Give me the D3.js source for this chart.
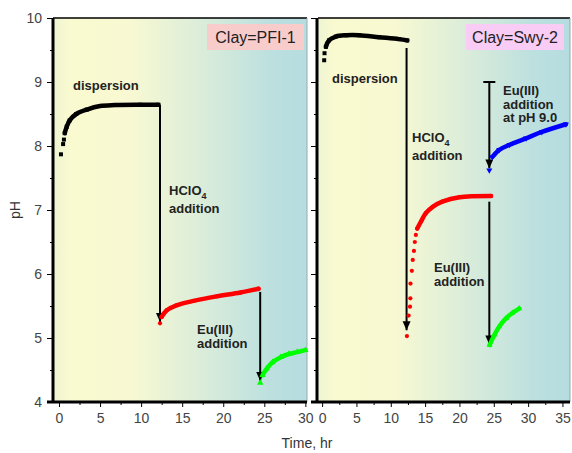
<!DOCTYPE html>
<html>
<head>
<meta charset="utf-8">
<script src="https://cdn.jsdelivr.net/npm/d3@7"></script>
<style>
  body { margin: 0; background: #fff; }
  svg { display: block; font-family: "Liberation Sans", Arial, sans-serif; }
  .tick text { fill: #444; font-size: 14px; }
  .ann { font-weight: bold; font-size: 13px; fill: #222; }
</style>
</head>
<body>
<svg width="572" height="453"></svg>
<script>
// ---- data (time in hr, pH) ----
var pfiDispT   = [0.24, 0.5, 0.6, 0.7, 0.94, 1.3, 2.1, 3.4, 5, 6.8, 9.9, 12.1];
var pfiDispPH  = [7.87, 8.03, 8.1, 8.2, 8.3, 8.4, 8.5, 8.57, 8.625, 8.64, 8.645, 8.645];
var pfiAcidT   = [12.3, 12.5, 13.1, 14.3, 16.4, 19.2, 22.1, 24.3];
var pfiAcidPH  = [5.23, 5.33, 5.43, 5.51, 5.58, 5.65, 5.71, 5.77];
var pfiEuT     = [24.5, 24.8, 25.3, 26, 27, 28, 29, 30];
var pfiEuPH    = [4.3, 4.42, 4.52, 4.62, 4.7, 4.75, 4.78, 4.81];

var swyDispT   = [0.3, 0.35, 0.55, 1.0, 2, 3.5, 5.4, 8.3, 11.2, 12.4];
var swyDispPH  = [9.34, 9.45, 9.55, 9.65, 9.71, 9.73, 9.73, 9.7, 9.67, 9.65];
var swyAcidT   = [12.35, 12.6, 12.8, 12.85, 12.87, 13.07, 13.2, 13.37, 13.5, 13.65, 13.85, 14.4, 15.1, 16.1, 17.5, 20, 24.6];
var swyAcidPH  = [5.03, 5.35, 5.49, 5.62, 5.85, 6.05, 6.22, 6.36, 6.5, 6.61, 6.71, 6.82, 6.95, 7.05, 7.13, 7.2, 7.22];
var swyEu9T    = [24.35, 24.8, 25.8, 27.3, 29.7, 32, 35.5];
var swyEu9PH   = [7.62, 7.83, 7.94, 8.02, 8.12, 8.22, 8.34];
var swyEuT     = [24.4, 25.1, 25.8, 26.8, 27.7, 28.7];
var swyEuPH    = [4.89, 5.05, 5.18, 5.31, 5.39, 5.46];

// arrows: [time, pH from, pH to]
var pfiArrows = [[12.3, 8.64, 5.25], [24.5, 5.72, 4.33]];
var swyArrows = [[12.3, 9.53, 5.12], [24.35, 9.0, 7.65], [24.35, 7.13, 4.9]];

var yTicks = [4, 5, 6, 7, 8, 9, 10];
var pfiXTicks = [0, 5, 10, 15, 20, 25, 30];
var swyXTicks = [0, 5, 10, 15, 20, 25, 30, 35];

var svg = d3.select("svg");

var y = d3.scaleLinear().domain([4, 10]).range([402, 18]);
var xL = d3.scaleLinear().domain([-0.73, 30.2]).range([53, 307]);
var xR = d3.scaleLinear().domain([-0.6, 36.1]).range([318, 570]);

var defs = svg.append("defs");
var grad = defs.append("linearGradient").attr("id", "bg");
[[0, "#eef5d3"], [0.07, "#fafad0"], [0.3, "#f8f9d2"], [0.6, "#d9ecda"], [0.85, "#bde0df"], [1, "#b5dce0"]]
  .forEach(function(s){ grad.append("stop").attr("offset", s[0]).attr("stop-color", s[1]); });

defs.append("marker")
    .attr("id", "head")
    .attr("markerUnits", "userSpaceOnUse")
    .attr("markerWidth", 10).attr("markerHeight", 10)
    .attr("refX", 9).attr("refY", 4)
    .attr("orient", "auto")
  .append("path")
    .attr("d", "M0,0 L9,4 L0,8 Z")
    .attr("fill", "#000");

function zip(t, p) { return t.map(function(d, i){ return [d, p[i]]; }); }

function panel(x, xTicks, showLabels, opts) {
    var r = x.range();
    var g = svg.append("g");
    g.append("rect")
        .attr("x", r[0]).attr("y", 18)
        .attr("width", r[1] - r[0]).attr("height", 384)
        .attr("fill", "url(#bg)");
    g.append("line").attr("x1", r[0]).attr("x2", r[1]).attr("y1", 18).attr("y2", 18)
        .attr("stroke", "#000").attr("stroke-width", 1.5);
    g.append("line").attr("x1", r[1]).attr("x2", r[1]).attr("y1", 18).attr("y2", 402)
        .attr("stroke", "#9aa").attr("stroke-width", 1);

    var ax = opts.axisX;
    // minor y ticks
    g.append("g").attr("transform", "translate(" + ax + ",0)")
        .call(d3.axisLeft(y).tickValues(d3.range(4.5, 10, 1)).tickSize(3).tickFormat(""))
        .call(function(s){ s.select(".domain").remove(); });
    var ya = g.append("g").attr("transform", "translate(" + ax + ",0)")
        .call(d3.axisLeft(y).tickValues(yTicks).tickSize(6).tickPadding(5)
              .tickFormat(showLabels ? d3.format("d") : ""));
    ya.select(".domain").attr("stroke-width", 3).attr("d", "M0,18V403");

    // x axis
    g.append("g").attr("transform", "translate(0,402)")
        .call(d3.axisBottom(x).tickValues(d3.range(2.5, x.domain()[1], 5)).tickSize(3).tickFormat(""))
        .call(function(s){ s.select(".domain").remove(); });
    var xa = g.append("g").attr("transform", "translate(0,402)")
        .call(d3.axisBottom(x).tickValues(xTicks).tickSize(5).tickPadding(6));
    xa.select(".domain").attr("stroke-width", 3).attr("d", "M" + (ax - 6) + ",0H" + r[1]);
    return g;
}

var gL = panel(xL, pfiXTicks, true, {axisX: 53});
var gR = panel(xR, swyXTicks, false, {axisX: 317});

function curve(g, x, pts, color, width, from) {
    var line = d3.line()
        .x(function(d){ return x(d[0]); })
        .y(function(d){ return y(d[1]); })
        .curve(d3.curveCatmullRom.alpha(0.5));
    g.append("path")
        .datum(pts.slice(from))
        .attr("d", line)
        .attr("fill", "none")
        .attr("stroke", color)
        .attr("stroke-width", width)
        .attr("stroke-linecap", "round");
}

function markers(g, x, pts, color, type, size) {
    g.selectAll(null).data(pts).enter().append("path")
        .attr("transform", function(d){ return "translate(" + x(d[0]) + "," + y(d[1]) + ")" + (type === "down" ? " rotate(180)" : ""); })
        .attr("d", d3.symbol().type(type === "square" ? d3.symbolSquare : type === "circle" ? d3.symbolCircle : d3.symbolTriangle).size(size))
        .attr("fill", color);
}

function arrows(g, x, list) {
    list.forEach(function(a){
        g.append("line")
            .attr("x1", x(a[0])).attr("x2", x(a[0]))
            .attr("y1", y(a[1])).attr("y2", y(a[2]))
            .attr("stroke", "#000").attr("stroke-width", 2)
            .attr("marker-end", "url(#head)");
    });
}

// left panel: PFI-1
var d1 = zip(pfiDispT, pfiDispPH), d2 = zip(pfiAcidT, pfiAcidPH), d3p = zip(pfiEuT, pfiEuPH);
curve(gL, xL, d1, "#000", 4.5, 3);
markers(gL, xL, d1, "#000", "square", 16);
arrows(gL, xL, pfiArrows);
curve(gL, xL, d2, "#f00", 4.5, 1);
markers(gL, xL, d2, "#f00", "circle", 14);
curve(gL, xL, d3p, "#0f0", 4.5, 1);
markers(gL, xL, d3p, "#0f0", "tri", 18);

// right panel: Swy-2
var e1 = zip(swyDispT, swyDispPH), e2 = zip(swyAcidT, swyAcidPH), e3 = zip(swyEu9T, swyEu9PH), e4 = zip(swyEuT, swyEuPH);
curve(gR, xR, e1, "#000", 4.5, 2);
markers(gR, xR, e1, "#000", "square", 16);
arrows(gR, xR, swyArrows);
gR.append("line")
    .attr("x1", xR(swyArrows[1][0]) - 6).attr("x2", xR(swyArrows[1][0]) + 6)
    .attr("y1", y(swyArrows[1][1])).attr("y2", y(swyArrows[1][1]))
    .attr("stroke", "#000").attr("stroke-width", 2);
curve(gR, xR, e2, "#f00", 4.5, 10);
markers(gR, xR, e2, "#f00", "circle", 14);
curve(gR, xR, e3, "#00f", 4.5, 1);
markers(gR, xR, e3, "#00f", "down", 16);
curve(gR, xR, e4, "#0f0", 4.5, 0);
markers(gR, xR, e4, "#0f0", "tri", 16);

// annotations
function label(g, x0, y0, lines) {
    var t = g.append("text").attr("class", "ann").attr("x", x0).attr("y", y0);
    lines.forEach(function(l, i){
        t.append("tspan").attr("x", x0).attr("dy", i === 0 ? 0 : 13.5).text(l);
    });
    return t;
}
label(gL, 73, 90, ["dispersion"]);
var h1 = label(gL, 169, 195, ["HClO", "addition"]);
h1.select("tspan").append("tspan").attr("font-size", 9).attr("dy", 4).text("4");
label(gL, 197, 334, ["Eu(III)", "addition"]);

label(gR, 332, 83, ["dispersion"]);
var h2 = label(gR, 412, 142, ["HClO", "addition"]);
h2.select("tspan").append("tspan").attr("font-size", 9).attr("dy", 4).text("4");
label(gR, 503, 95, ["Eu(III)", "addition", "at pH 9.0"]);
label(gR, 434, 272, ["Eu(III)", "addition"]);

// clay boxes
function clay(g, x0, w, fill, txt) {
    g.append("rect").attr("x", x0).attr("y", 24).attr("width", w).attr("height", 26).attr("fill", fill);
    g.append("text").attr("x", x0 + w / 2).attr("y", 43).attr("text-anchor", "middle")
        .attr("font-size", 16).attr("fill", "#222").text(txt);
}
clay(gL, 207, 97, "#f9cccc", "Clay=PFI-1");
clay(gR, 466, 98, "#f8ccf4", "Clay=Swy-2");

// axis titles
svg.append("text").attr("transform", "translate(20,210) rotate(-90)")
    .attr("text-anchor", "middle").attr("font-size", 14).attr("fill", "#333").text("pH");
svg.append("text").attr("x", 307).attr("y", 448)
    .attr("text-anchor", "middle").attr("font-size", 14).attr("fill", "#333").text("Time, hr");
</script>
</body>
</html>
